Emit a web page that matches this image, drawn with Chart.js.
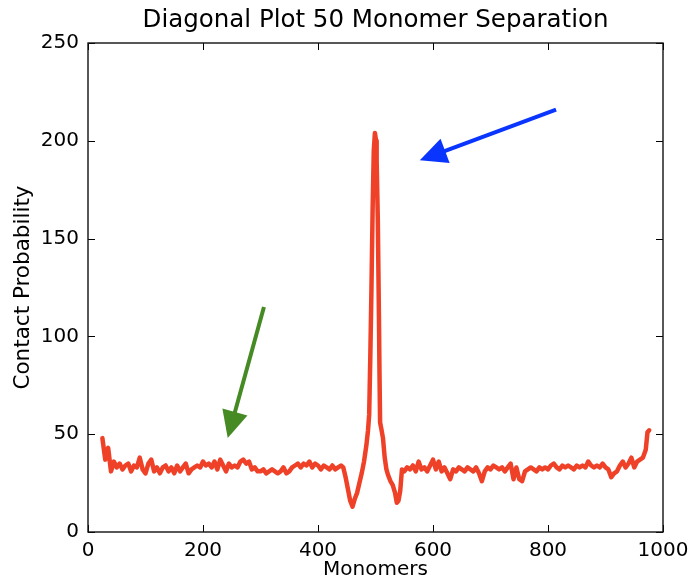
<!DOCTYPE html>
<html><head><meta charset="utf-8">
<script src="https://cdn.jsdelivr.net/npm/chart.js@4.4.1/dist/chart.umd.min.js"></script>
<style>html,body{margin:0;padding:0;background:#fff;}#wrap{width:689px;height:582px;}</style>
</head><body><div id="wrap"><canvas id="c" width="689" height="582"></canvas></div>
<script>
const chartTitle = 'Diagonal Plot 50 Monomer Separation';
const monomers = [
  25,30,35,40,45,50,55,60,65,70,
  75,80,85,90,95,100,105,110,115,120,
  125,130,135,140,145,150,155,160,165,170,
  175,180,185,190,195,200,205,210,215,220,
  225,230,235,240,245,250,255,260,265,270,
  275,280,285,290,295,300,305,310,315,320,
  325,330,335,340,345,350,355,360,365,370,
  375,380,385,390,395,400,405,410,415,420,
  425,430,435,440,444,448,452,456,460,464,
  468,472,476,480,484,487,489,491,493,495,
  497,499,501,502,504,506,507,508,510,513,
  516,519,522,526,530,534,537,540,543,546,
  550,555,560,565,570,575,580,585,590,595,
  600,605,610,615,620,625,630,635,640,645,
  650,655,660,665,670,675,680,685,690,695,
  700,705,710,715,720,725,730,735,740,745,
  750,755,760,765,770,775,780,785,790,795,
  800,805,810,815,820,825,830,835,840,845,
  850,855,860,865,870,875,880,885,890,895,
  900,905,910,915,920,925,930,935,940,945,
  950,955,960,965,970,973,976
];
const contactProbability = [
  48,37,43,31,36,33,35,32,34,35,
  31,34,33,38,32,30,35,37,31,33,
  30,33,34,31,33,30,34,31,33,35,
  30,32,33,34,33,36,34,35,33,36,
  32,37,34,31,35,33,34,33,36,37,
  35,36,32,33,31,31,32,30,31,32,
  31,30,31,33,30,31,33,34,35,33,
  35,34,36,33,35,34,32,34,33,32,
  34,32,33,34,33,28,22,16,13,17,
  20,25,30,36,44,52,60,90,125,165,
  195,204,200,190,160,110,80,56,53,48,
  38,32,29,26,24,20,15,16,21,32,
  31,33,32,34,31,36,32,33,31,34,
  37,32,36,31,33,30,27,32,31,33,
  32,31,33,32,31,33,30,26,31,33,
  32,34,33,32,33,31,33,35,27,33,
  27,26,31,32,33,32,31,33,32,33,
  32,34,35,33,32,34,33,34,33,32,
  34,33,34,33,36,34,33,34,33,35,
  33,32,28,30,31,34,36,33,35,38,
  33,36,37,38,42,51,52
];
const xTickValues = [0,200,400,600,800,1000];
const yTickValues = [0,50,100,150,200,250];
// annotation arrows in data coordinates: [tailX, tailY, tipX, tipY]
const blueArrow = [814,216,577,190];
const greenArrow = [306,115,243,48];

const FONT = "'DejaVu Sans', 'Liberation Sans', sans-serif";

const framePlugin = {
  id: 'frameTicks',
  afterDraw(chart) {
    const {ctx, chartArea: {left, right, top, bottom}, scales: {x, y}} = chart;
    ctx.save();
    // title
    ctx.fillStyle = '#000';
    ctx.font = "24.5px " + FONT;
    ctx.textAlign = 'center';
    ctx.textBaseline = 'middle';
    ctx.fillText(chartTitle, (left + right) / 2, 21);

    ctx.strokeStyle = '#000';
    ctx.lineWidth = 1;
    const L = 7;
    ctx.beginPath();
    xTickValues.forEach(v => {
      const px = Math.round(x.getPixelForValue(v)) + 0.5;
      ctx.moveTo(px, bottom); ctx.lineTo(px, bottom - L);
      ctx.moveTo(px, top); ctx.lineTo(px, top + L);
    });
    yTickValues.forEach(v => {
      const py = Math.round(y.getPixelForValue(v)) + 0.5;
      ctx.moveTo(left, py); ctx.lineTo(left + L, py);
      ctx.moveTo(right, py); ctx.lineTo(right - L, py);
    });
    ctx.stroke();
    ctx.lineWidth = 1.4;
    ctx.strokeStyle = '#111';
    ctx.strokeRect(left, top, right - left, bottom - top);

    function arrow(a, color) {
      const x0 = x.getPixelForValue(a[0]), y0 = y.getPixelForValue(a[1]);
      const x1 = x.getPixelForValue(a[2]), y1 = y.getPixelForValue(a[3]);
      const dx = x1 - x0, dy = y1 - y0, len = Math.hypot(dx, dy);
      const ux = dx / len, uy = dy / len;
      const hl = 27, hw = 13;
      const bx = x1 - ux * hl, by = y1 - uy * hl;
      ctx.strokeStyle = color; ctx.fillStyle = color;
      ctx.lineWidth = 4; ctx.lineCap = 'butt';
      ctx.beginPath(); ctx.moveTo(x0, y0); ctx.lineTo(bx + ux * 2, by + uy * 2); ctx.stroke();
      ctx.beginPath();
      ctx.moveTo(x1, y1);
      ctx.lineTo(bx - uy * hw, by + ux * hw);
      ctx.lineTo(bx + uy * hw, by - ux * hw);
      ctx.closePath(); ctx.fill();
    }
    arrow(blueArrow, '#0a35ff');
    arrow(greenArrow, '#468a24');
    ctx.restore();
  }
};

new Chart(document.getElementById('c'), {
  type: 'line',
  data: {
    datasets: [{
      data: monomers.map((m, i) => ({x: m, y: contactProbability[i]})),
      borderColor: '#ef4128',
      borderWidth: 4.5,
      pointRadius: 0,
      tension: 0,
      fill: false,
      borderJoinStyle: 'round',
      borderCapStyle: 'round'
    }]
  },
  options: {
    responsive: false,
    animation: false,
    devicePixelRatio: 1,
    layout: {padding: {left: 0, right: 26, top: 43, bottom: 0}},
    plugins: {
      legend: {display: false},
      tooltip: {enabled: false},
      title: {display: false}
    },
    scales: {
      x: {
        type: 'linear', min: 0, max: 1000,
        afterBuildTicks: s => { s.ticks = xTickValues.map(v => ({value: v})); },
        afterFit: s => { s.height = 50; s.paddingLeft = 0; s.paddingRight = 0; },
        grid: {display: false, drawTicks: false},
        border: {display: false},
        ticks: {color: '#000', font: {family: FONT, size: 20}, padding: 7, maxRotation: 0, callback: v => String(v)},
        title: {display: true, text: 'Monomers', color: '#000', font: {family: FONT, size: 20}, padding: {top: 0, bottom: 0}}
      },
      y: {
        type: 'linear', min: 0, max: 250,
        afterBuildTicks: s => { s.ticks = yTickValues.map(v => ({value: v})); },
        afterFit: s => { s.width = 88; s.paddingTop = 0; s.paddingBottom = 0; },
        grid: {display: false, drawTicks: false},
        border: {display: false},
        ticks: {color: '#000', font: {family: FONT, size: 20}, padding: 9, callback: v => String(v)},
        title: {display: true, text: 'Contact Probability', color: '#000', font: {family: FONT, size: 21.5}, padding: {top: 11, bottom: 0}}
      }
    }
  },
  plugins: [framePlugin]
});
</script>
</body></html>
